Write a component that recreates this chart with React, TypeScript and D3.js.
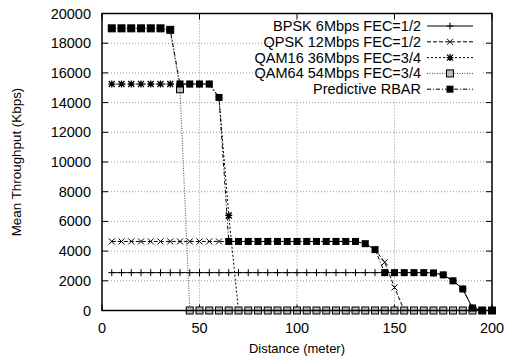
import { useEffect, useRef } from "react"
import * as d3 from "d3"

const distance = [5, 10, 15, 20, 25, 30, 35, 40, 45, 50, 55, 60, 65, 70, 75, 80, 85, 90, 95, 100,
  105, 110, 115, 120, 125, 130, 135, 140, 145, 150, 155, 160, 165, 170, 175, 180, 185, 190, 195, 200]

const bpsk = [2550, 2550, 2550, 2550, 2550, 2550, 2550, 2550, 2550, 2550, 2550, 2550, 2550, 2550, 2550, 2550, 2550, 2550, 2550, 2550,
  2550, 2550, 2550, 2550, 2550, 2550, 2550, 2550, 2550, 2550, 2550, 2550, 2550, 2530, 2400, 2000, 1450, 170, 0, 0]
const qpsk = [4650, 4650, 4650, 4650, 4650, 4650, 4650, 4650, 4650, 4650, 4650, 4650, 4650, 4650, 4650, 4650, 4650, 4650, 4650, 4650,
  4650, 4650, 4650, 4650, 4650, 4650, 4500, 4100, 3250, 1550, 0, 0, 0, 0, 0, 0, 0, 0, 0, 0]
const qam16 = [15250, 15250, 15250, 15250, 15250, 15250, 15250, 15250, 15250, 15250, 15250, 14350, 6400, 0, 0, 0, 0, 0, 0, 0,
  0, 0, 0, 0, 0, 0, 0, 0, 0, 0, 0, 0, 0, 0, 0, 0, 0, 0, 0, 0]
const qam64 = [19000, 19000, 19000, 19000, 19000, 19000, 18900, 14900, 0, 0, 0, 0, 0, 0, 0, 0, 0, 0, 0, 0,
  0, 0, 0, 0, 0, 0, 0, 0, 0, 0, 0, 0, 0, 0, 0, 0, 0, 0, 0, 0]
const rbar = [19000, 19000, 19000, 19000, 19000, 19000, 18900, 15250, 15250, 15250, 15250, 14350, 4650, 4650, 4650, 4650, 4650, 4650, 4650, 4650,
  4650, 4650, 4650, 4650, 4650, 4650, 4500, 4100, 2550, 2550, 2550, 2550, 2550, 2530, 2400, 2000, 1450, 170, 0, 0]

const seriesNames = ["BPSK 6Mbps FEC=1/2", "QPSK 12Mbps FEC=1/2", "QAM16 36Mbps FEC=3/4", "QAM64 54Mbps FEC=3/4", "Predictive RBAR"]
const xTicks = [0, 50, 100, 150, 200]
const yTicks = [0, 2000, 4000, 6000, 8000, 10000, 12000, 14000, 16000, 18000, 20000]

const FONT = "'Liberation Sans', Arial, Helvetica, sans-serif"

export default function App() {
  const ref = useRef<SVGSVGElement>(null)
  useEffect(() => {
    if (!ref.current) return
    const svg = d3.select(ref.current)
    svg.selectAll("*").remove()
    const x = d3.scaleLinear().domain([0, 200]).range([102, 492])
    const y = d3.scaleLinear().domain([0, 20000]).range([310.5, 13.5])
    const [x0, x1] = x.range(), [y0, y1] = y.range()

    // grid
    const grid = svg.append("g").attr("stroke", "#999").attr("stroke-width", 1).attr("stroke-dasharray", "1,2")
    xTicks.slice(1, -1).forEach(t => grid.append("line").attr("x1", x(t)).attr("x2", x(t)).attr("y1", y0).attr("y2", y1))
    yTicks.slice(1, -1).forEach(t => grid.append("line").attr("x1", x0).attr("x2", x1).attr("y1", y(t)).attr("y2", y(t)))

    // opaque key background
    svg.append("rect").attr("x", 276).attr("y", y1 + 1).attr("width", 207).attr("height", 85).attr("fill", "#fff")

    // tick marks, mirrored
    const tk = svg.append("g").attr("stroke", "#000").attr("stroke-width", 1)
    xTicks.forEach(t => {
      tk.append("line").attr("x1", x(t)).attr("x2", x(t)).attr("y1", y0).attr("y2", y0 - 6)
      tk.append("line").attr("x1", x(t)).attr("x2", x(t)).attr("y1", y1).attr("y2", y1 + 6)
    })
    yTicks.forEach(t => {
      tk.append("line").attr("x1", x0).attr("x2", x0 + 6).attr("y1", y(t)).attr("y2", y(t))
      tk.append("line").attr("x1", x1).attr("x2", x1 - 6).attr("y1", y(t)).attr("y2", y(t))
    })

    const lab = svg.append("g").style("font-family", FONT).style("font-size", "14.5px").attr("fill", "#000")
    xTicks.forEach(t => lab.append("text").attr("x", x(t)).attr("y", y0 + 22).attr("text-anchor", "middle").text(t))
    yTicks.forEach(t => lab.append("text").attr("x", x0 - 11).attr("y", y(t) + 5).attr("text-anchor", "end").text(t))

    svg.append("text").attr("x", (x0 + x1) / 2).attr("y", 353).attr("text-anchor", "middle")
      .style("font-family", FONT).style("font-size", "13px").text("Distance (meter)")
    svg.append("text").attr("transform", "rotate(-90)").attr("x", -(y0 + y1) / 2).attr("y", 21).attr("text-anchor", "middle")
      .style("font-family", FONT).style("font-size", "13.4px").text("Mean Throughput (Kbps)")

    const styles = [
      { dash: null, stroke: "#000", mark: "plus" },
      { dash: "4,2", stroke: "#000", mark: "cross" },
      { dash: "2,2", stroke: "#000", mark: "star" },
      { dash: "1,1.5", stroke: "#444", mark: "box" },
      { dash: "4,2,1,2", stroke: "#000", mark: "fbox" },
    ]
    const allSeries = [bpsk, qpsk, qam16, qam64, rbar]

    const drawMark = (g: any, kind: string, cx: number, cy: number) => {
      if (kind === "plus") g.append("path").attr("d", `M${cx - 3.5},${cy}H${cx + 3.5}M${cx},${cy - 3.5}V${cy + 3.5}`).attr("stroke", "#000").attr("stroke-width", 1)
      else if (kind === "cross") g.append("path").attr("d", `M${cx - 3},${cy - 3}L${cx + 3},${cy + 3}M${cx - 3},${cy + 3}L${cx + 3},${cy - 3}`).attr("stroke", "#000").attr("stroke-width", 1)
      else if (kind === "star") g.append("path").attr("d", `M${cx - 3.5},${cy}H${cx + 3.5}M${cx},${cy - 3.5}V${cy + 3.5}M${cx - 3},${cy - 3}L${cx + 3},${cy + 3}M${cx - 3},${cy + 3}L${cx + 3},${cy - 3}`).attr("stroke", "#000").attr("stroke-width", 1.3)
      else if (kind === "box") g.append("rect").attr("x", cx - 3.5).attr("y", cy - 3.5).attr("width", 7).attr("height", 7).attr("fill", "#bbb").attr("stroke", "#000").attr("stroke-width", 1)
      else g.append("rect").attr("x", cx - 3.5).attr("y", cy - 3.5).attr("width", 7).attr("height", 7).attr("fill", "#000")
    }

    const line = d3.line<number>().x((_, i) => x(distance[i])).y(d => y(d))
    allSeries.forEach((vals, si) => {
      const st = styles[si]
      const g = svg.append("g")
      g.append("path").attr("d", line(vals)).attr("fill", "none").attr("stroke", st.stroke).attr("stroke-width", 1)
        .attr("stroke-dasharray", st.dash)
      vals.forEach((v, i) => drawMark(g, st.mark, x(distance[i]), y(v)))
    })

    // legend
    const lg = svg.append("g")
    seriesNames.forEach((name, i) => {
      const ry = 26 + i * 15.8
      const st = styles[i]
      lg.append("text").attr("x", 421).attr("y", ry + 5).attr("text-anchor", "end")
        .style("font-family", FONT).style("font-size", "14.5px").text(name)
      lg.append("line").attr("x1", 427).attr("x2", 473).attr("y1", ry).attr("y2", ry)
        .attr("stroke", st.stroke).attr("stroke-width", 1).attr("stroke-dasharray", st.dash)
      drawMark(lg, st.mark, 450, ry)
    })

    // border
    svg.append("rect").attr("x", x0).attr("y", y1).attr("width", x1 - x0).attr("height", y0 - y1)
      .attr("fill", "none").attr("stroke", "#000").attr("stroke-width", 1.5)
  }, [])
  return <svg ref={ref} width={506} height={360} style={{ position: "absolute", left: 0, top: 0, background: "#fff" }} />
}
